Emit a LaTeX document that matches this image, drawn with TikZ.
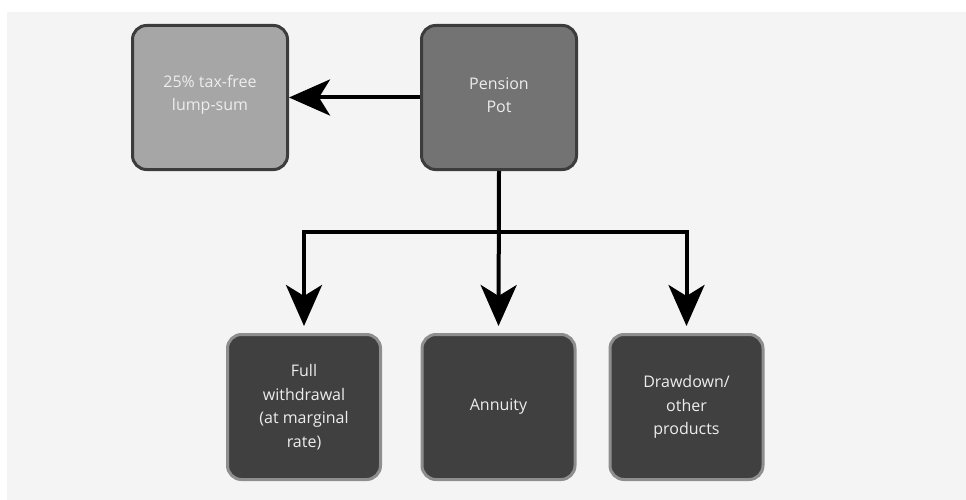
\documentclass[tikz,border=0pt]{standalone}
\usepackage{fontspec}
\setmainfont{Open Sans}
\usetikzlibrary{arrows.meta}
\definecolor{bgc}{HTML}{F4F4F4}
\definecolor{lumpc}{HTML}{A6A6A6}
\definecolor{potc}{HTML}{737373}
\definecolor{darkc}{HTML}{404040}
\definecolor{edgec}{HTML}{3C3C3C}
\definecolor{ledgec}{HTML}{8E8E8E}
\definecolor{txtc}{HTML}{EDEDED}
\tikzset{
  box/.style={rounded corners=14pt, line width=3pt, align=center, text=txtc,
    font=\fontsize{16}{23.5}\selectfont, inner sep=0pt},
  topbox/.style={box, draw=edgec, minimum width=155pt, minimum height=144pt},
  botbox/.style={box, draw=ledgec, fill=darkc, minimum width=153pt, minimum height=145pt},
  conn/.style={line width=4pt, -{Stealth[length=41pt, width=36pt, inset=11pt]}},
}
\begin{document}
\begin{tikzpicture}[x=1pt, y=-1pt]
\useasboundingbox (0,0) rectangle (966,500);
\fill[bgc] (7,12) rectangle (966,500);
\node[topbox, fill=lumpc] (lump) at (210,97.5) {};
\node[topbox, fill=potc] (pot) at (499,97.5) {};
\node[align=center, text=txtc, font=\fontsize{16}{23.5}\selectfont, inner sep=0pt] (lumpt) at (210,95) {25\% tax-free\\lump-sum};
\node[align=center, text=txtc, font=\fontsize{16}{23.5}\selectfont, inner sep=0pt] (pott) at (499,95) {Pension\\Pot};
\node[botbox] (fw) at (304,407) {Full\\withdrawal\\(at marginal\\rate)};
\node[botbox] (ann) at (498.5,407) {Annuity};
\node[botbox] (dd) at (686.5,407) {Drawdown/\\other\\products};
\coordinate (j) at (499,232);
\draw[conn] (pot.west) -- (lump.east);
\draw[conn, shorten >=7pt] (pot.south) -- (ann.north);
\draw[conn, shorten >=7pt] (j) -| (fw.north);
\draw[conn, shorten >=7pt] (j) -| (dd.north);
\end{tikzpicture}
\end{document}
